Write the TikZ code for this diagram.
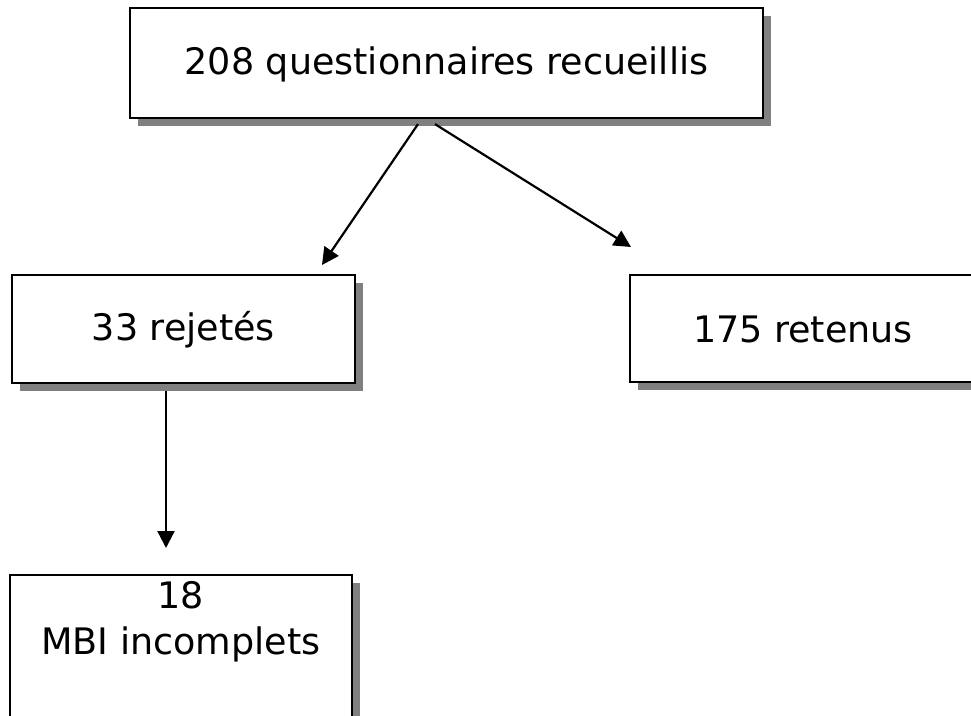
\documentclass[tikz,border=0pt]{standalone}
\usepackage{fontspec}
\setmainfont{DejaVu Sans}
\usetikzlibrary{arrows.meta,shadows,calc}
\begin{document}
\begin{tikzpicture}[x=1pt,y=-1pt,
  box/.style={draw=black,line width=2.2pt,fill=white,rectangle,inner sep=0pt,
    drop shadow={shadow xshift=8pt,shadow yshift=-8pt,fill=black!50,opacity=1}},
  txt/.style={font=\fontsize{36.5}{46}\selectfont,align=center,inner sep=0pt},
  arr/.style={line width=2.2pt,-{Triangle[length=17pt,width=17pt]}}]
\useasboundingbox (0,0) rectangle (971,715);
\node[box,minimum width=633pt,minimum height=110pt] (top) at (446.5,63) {};
\node[txt] (toptxt) at ($(top.center)+(0,1)$) {208 questionnaires recueillis};
\node[box,minimum width=343pt,minimum height=108pt] (rej) at (183.5,329) {};
\node[txt] (rejtxt) at ($(rej.center)+(0,1)$) {33 rejetés};
\node[box,minimum width=346pt,minimum height=107pt] (ret) at (803,328.5) {};
\node[txt] (rettxt) at ($(ret.center)+(0,1)$) {175 retenus};
\node[box,minimum width=342pt,minimum height=170pt] (mbi) at (181,660) {};
\node[txt,anchor=north] (mbitxt) at (181,581) {18\\MBI incomplets};
\coordinate (a1s) at ($(top.south)+(-28.5,5)$);
\coordinate (a1e) at (322,265);
\coordinate (a2s) at ($(top.south)+(-11.5,5)$);
\coordinate (a2e) at (631,247);
\coordinate (a3s) at ($(rej.south)+(-17.5,7)$);
\coordinate (a3e) at (166,548);
\draw[arr] (a1s) -- (a1e);
\draw[arr] (a2s) -- (a2e);
\draw[arr] (a3s) -- (a3e);
\end{tikzpicture}
\end{document}
